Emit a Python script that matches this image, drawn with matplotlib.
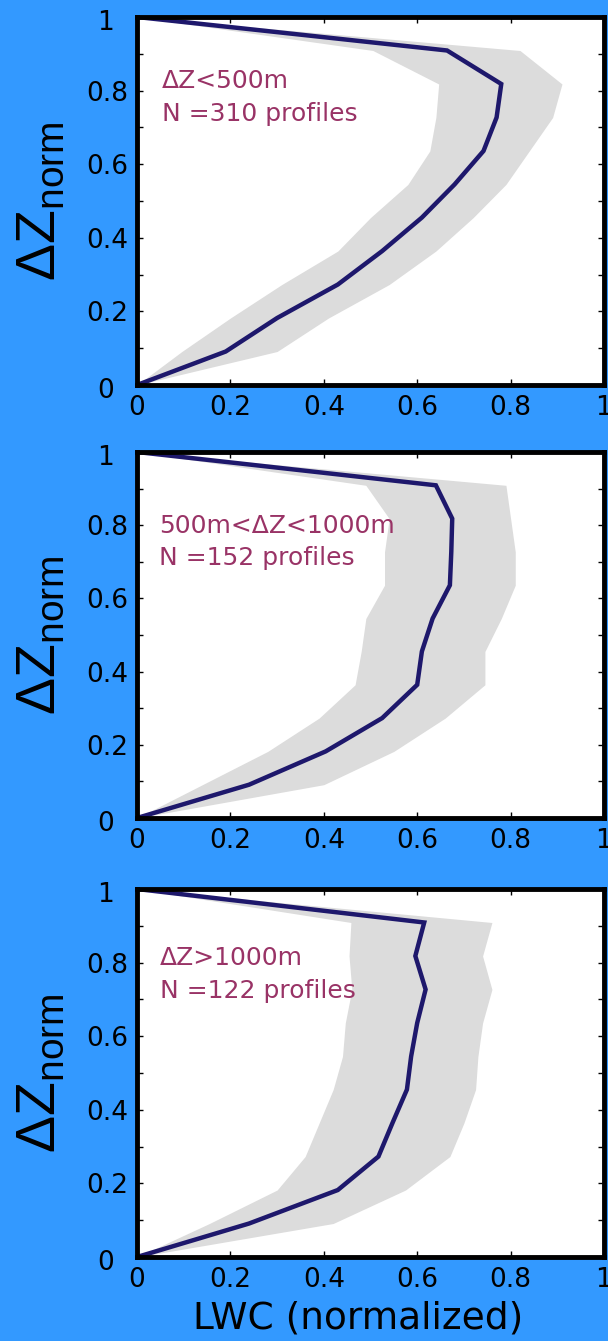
import numpy as np
import matplotlib
matplotlib.use("Agg")
import matplotlib.pyplot as plt
from matplotlib.transforms import ScaledTranslation

# normalized height levels of the composite profiles
z_levels = [0.0, 0.091, 0.182, 0.273, 0.364, 0.455, 0.545, 0.636, 0.727, 0.818, 0.909, 1.0]

# shallow clouds (dZ < 500 m)
mean_a = [0.0, 0.19, 0.30, 0.43, 0.525, 0.61, 0.68, 0.742, 0.77, 0.78, 0.664, 0.0]
low_a  = [0.0, 0.096, 0.20, 0.31, 0.43, 0.50, 0.58, 0.627, 0.64, 0.646, 0.505, 0.0]
high_a = [0.0, 0.30, 0.41, 0.54, 0.64, 0.72, 0.79, 0.84, 0.89, 0.91, 0.82, 0.0]

# medium clouds (500 m < dZ < 1000 m)
mean_b = [0.0, 0.24, 0.404, 0.525, 0.60, 0.61, 0.633, 0.67, 0.673, 0.675, 0.64, 0.0]
low_b  = [0.0, 0.14, 0.28, 0.39, 0.467, 0.48, 0.49, 0.53, 0.53, 0.54, 0.49, 0.0]
high_b = [0.0, 0.40, 0.55, 0.66, 0.745, 0.745, 0.78, 0.81, 0.81, 0.80, 0.79, 0.0]

# deep clouds (dZ > 1000 m)
mean_c = [0.0, 0.24, 0.43, 0.517, 0.547, 0.578, 0.587, 0.60, 0.618, 0.596, 0.615, 0.0]
low_c  = [0.0, 0.155, 0.30, 0.36, 0.39, 0.42, 0.44, 0.446, 0.46, 0.454, 0.458, 0.0]
high_c = [0.0, 0.42, 0.575, 0.67, 0.70, 0.725, 0.73, 0.74, 0.76, 0.74, 0.76, 0.0]

labels_top = ["\u0394Z<500m", "500m<\u0394Z<1000m", "\u0394Z>1000m"]
labels_n = ["N =310 profiles", "N =152 profiles", "N =122 profiles"]

bg = "#3399FF"
line_col = "#1e186c"
band_col = "#dcdcdc"
txt_col = "#993366"

fig = plt.figure(figsize=(6.08, 13.41), dpi=100, facecolor=bg)

W, H = 608.0, 1341.0
left_px, right_px = 137, 604
panels_px = [(17, 385), (452, 818), (889, 1257)]
text_pos = [(0.053, 0.807, 0.717), (0.047, 0.78, 0.69), (0.049, 0.794, 0.704)]

profiles = [(mean_a, low_a, high_a), (mean_b, low_b, high_b), (mean_c, low_c, high_c)]

for i, ((top, bot), (mean, low, high)) in enumerate(zip(panels_px, profiles)):
    ax = fig.add_axes([left_px / W, (H - bot) / H, (right_px - left_px) / W, (bot - top) / H])
    ax.set_facecolor("white")
    ax.fill_betweenx(z_levels, low, high, color=band_col, lw=0)
    ax.plot(mean, z_levels, color=line_col, lw=3.2, solid_joinstyle="miter")
    ax.set_xlim(0, 1)
    ax.set_ylim(0, 1)

    ax.set_xticks([0, 0.2, 0.4, 0.6, 0.8, 1])
    ax.set_xticklabels(["0", "0.2", "0.4", "0.6", "0.8", "1"])
    ax.set_yticks([0, 0.2, 0.4, 0.6, 0.8, 1])
    ax.set_yticklabels(["0", "0.2", "0.4", "0.6", "0.8", "1"])
    ax.set_yticks([0.1, 0.3, 0.5, 0.7, 0.9], minor=True)
    ax.tick_params(which="both", direction="in", length=4.5, width=1.0,
                   top=True, right=True, labelsize=19, colors="black")
    ax.tick_params(axis="y", pad=6)
    ax.tick_params(axis="x", pad=7)
    for s in ax.spines.values():
        s.set_linewidth(3.5)
        s.set_color("black")

    # the integer labels sit further left than the decimal ones
    for lab in ax.get_yticklabels():
        if lab.get_text() in ("0", "1"):
            lab.set_transform(lab.get_transform() + ScaledTranslation(-15 / 100, -3 / 100, fig.dpi_scale_trans))

    tx, ty1, ty2 = text_pos[i]
    ax.text(tx, ty1, labels_top[i], transform=ax.transAxes, color=txt_col,
            fontsize=18, ha="left", va="baseline")
    ax.text(tx, ty2, labels_n[i], transform=ax.transAxes, color=txt_col,
            fontsize=18, ha="left", va="baseline")

    ax.text(-0.205, 0.5, "\u0394Z$_\\mathregular{norm}$", transform=ax.transAxes,
            rotation=90, ha="center", va="center", fontsize=40,
            family="Liberation Sans", color="black")

    if i == 2:
        ax.text(0.473, -0.117, "LWC (normalized)", transform=ax.transAxes,
                ha="center", va="top", fontsize=27, color="black")

fig.savefig("out.png", dpi=100, facecolor=bg)
